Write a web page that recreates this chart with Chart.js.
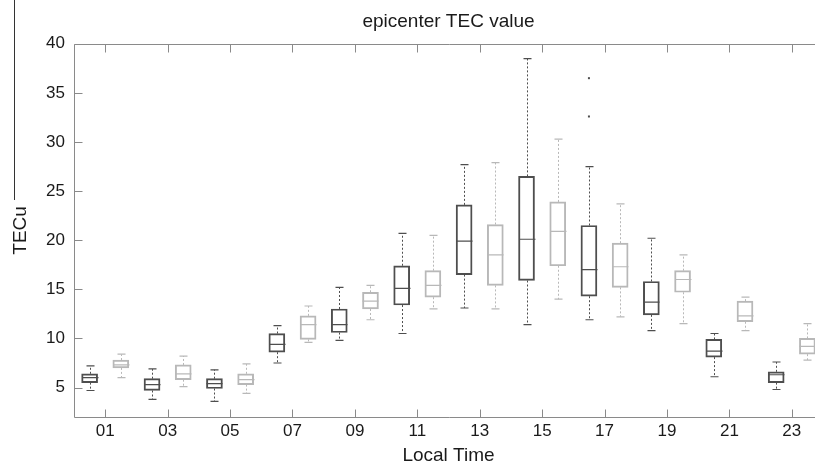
<!DOCTYPE html>
<html>
<head>
<meta charset="utf-8">
<title>epicenter TEC value</title>
<script src="https://cdn.jsdelivr.net/npm/chart.js@4.4.1/dist/chart.umd.min.js"></script>
<style>
    html, body { margin: 0; padding: 0; background: #fff; overflow: hidden; }
    #wrap { width: 824px; height: 466px; }
</style>
</head>
<body>
<div id="wrap"><canvas id="tecChart"></canvas></div>
<script>
// local time bins, each box sits in the middle of its hour
const hourStart = [0, 1, 2, 3, 4, 5, 6, 7, 8, 9, 10, 11, 12, 13, 14, 15, 16, 17, 18, 19, 20, 21, 22, 23];

const whiskerLow  = [4.7, 6.0, 3.8, 5.1, 3.6, 4.4, 7.5, 9.6, 9.8, 11.9, 10.5, 13.0, 13.1, 13.0, 11.4, 14.0, 11.9, 12.2, 10.8, 11.5, 6.1, 10.8, 4.8, 7.8];
const quart1      = [5.5, 7.0, 4.7, 5.8, 4.9, 5.3, 8.6, 9.9, 10.6, 13.0, 13.4, 14.2, 16.5, 15.4, 15.9, 17.4, 14.3, 15.2, 12.4, 14.7, 8.1, 11.7, 5.5, 8.4];
const median      = [6.0, 7.3, 5.3, 6.4, 5.4, 5.8, 9.4, 11.4, 11.4, 13.8, 15.1, 15.4, 19.9, 18.5, 20.1, 20.9, 17.0, 17.3, 13.7, 16.0, 8.7, 12.3, 6.3, 9.2];
const quart3      = [6.4, 7.8, 5.9, 7.3, 5.9, 6.4, 10.5, 12.3, 13.0, 14.7, 17.4, 16.9, 23.6, 21.6, 26.5, 23.9, 21.5, 19.7, 15.8, 16.9, 9.9, 13.8, 6.6, 10.0];
const whiskerHigh = [7.2, 8.4, 6.9, 8.2, 6.8, 7.4, 11.3, 13.3, 15.2, 15.4, 20.7, 20.5, 27.7, 27.9, 38.5, 30.3, 27.5, 23.7, 20.2, 18.5, 10.5, 14.2, 7.6, 11.5];

const outlierHour  = [16, 16];
const outlierValue = [36.5, 32.6];

const xTickValues = [1, 3, 5, 7, 9, 11, 13, 15, 17, 19, 21, 23];
const xTickLabels = ['01', '03', '05', '07', '09', '11', '13', '15', '17', '19', '21', '23'];
const yTickValues = [5, 10, 15, 20, 25, 30, 35, 40];

const DARK = '#4e4e4e';
const LIGHT = '#b8b8b8';
const AXIS = '#8a8a8a';
const boxColor = i => (i % 2 === 0 ? DARK : LIGHT);

Chart.defaults.font.family = "'Liberation Sans', Arial, sans-serif";
Chart.defaults.font.size = 17;
Chart.defaults.color = '#1a1a1a';

function line(ctx, x1, y1, x2, y2) {
    ctx.beginPath();
    ctx.moveTo(x1, y1);
    ctx.lineTo(x2, y2);
    ctx.stroke();
}

// whiskers, caps, medians and outliers on top of the floating bars
const boxExtras = {
    id: 'boxExtras',
    afterDatasetsDraw(chart) {
        const {ctx, chartArea, scales: {x, y}} = chart;
        const bars = chart.getDatasetMeta(0).data;
        ctx.save();
        ctx.beginPath();
        ctx.rect(chartArea.left, chartArea.top, chartArea.right - chartArea.left, chartArea.bottom - chartArea.top);
        ctx.clip();
        hourStart.forEach((h, i) => {
            const px = Math.round(x.getPixelForValue(h + 0.5)) + 0.5;
            const yLo = y.getPixelForValue(whiskerLow[i]);
            const yQ1 = y.getPixelForValue(quart1[i]);
            const yMed = y.getPixelForValue(median[i]);
            const yQ3 = y.getPixelForValue(quart3[i]);
            const yHi = y.getPixelForValue(whiskerHigh[i]);
            const half = bars[i].width / 2;
            ctx.strokeStyle = boxColor(i);
            ctx.lineWidth = 1;
            ctx.setLineDash([2, 2]);
            line(ctx, px, yQ3, px, yHi);
            line(ctx, px, yQ1, px, yLo);
            ctx.setLineDash([]);
            ctx.lineWidth = 1.2;
            line(ctx, px - half / 2, yHi, px + half / 2, yHi);
            line(ctx, px - half / 2, yLo, px + half / 2, yLo);
            line(ctx, px - half, yMed, px + half, yMed);
        });
        ctx.fillStyle = DARK;
        outlierHour.forEach((h, i) => {
            const px = x.getPixelForValue(h + 0.5);
            const py = y.getPixelForValue(outlierValue[i]);
            ctx.fillRect(px - 1, py - 1, 2, 2);
        });
        ctx.restore();
    }
};

// MATLAB style frame: axis lines with ticks pointing inwards
const axesFrame = {
    id: 'axesFrame',
    afterDraw(chart) {
        const {ctx, chartArea: {left, right, top, bottom}, scales: {x, y}} = chart;
        const len = 8;
        ctx.save();
        ctx.strokeStyle = AXIS;
        ctx.lineWidth = 1;
        const l = Math.round(left) + 0.5;
        const b = Math.round(bottom) + 0.5;
        const t = Math.round(top) + 0.5;
        line(ctx, l, t, l, b);
        line(ctx, l, b, right + 2, b);
        line(ctx, l, t, right + 2, t);
        y.ticks.forEach(tk => {
            const py = Math.round(y.getPixelForValue(tk.value)) + 0.5;
            line(ctx, l, py, l + len, py);
        });
        x.ticks.forEach(tk => {
            const px = Math.round(x.getPixelForValue(tk.value)) + 0.5;
            line(ctx, px, b, px, b - len);
            line(ctx, px, t, px, t + len);
        });
        // stray figure edge at the left of the picture
        ctx.strokeStyle = '#333';
        line(ctx, 14.5, 0, 14.5, 200);
        ctx.restore();
    }
};

new Chart(document.getElementById('tecChart'), {
    type: 'bar',
    data: {
        datasets: [{
            label: 'TEC',
            data: hourStart.map((h, i) => ({x: h + 0.5, y: [quart1[i], quart3[i]]})),
            backgroundColor: 'rgba(255,255,255,0)',
            borderColor: ctx => boxColor(ctx.dataIndex),
            borderWidth: 1.3,
            borderSkipped: false,
            barThickness: 16,
        }]
    },
    options: {
        responsive: true,
        maintainAspectRatio: false,
        animation: false,
        layout: {padding: {left: 0, right: 1, top: 0, bottom: 0}},
        plugins: {
            legend: {display: false},
            tooltip: {enabled: false},
            title: {
                display: true,
                text: 'epicenter TEC value',
                fullSize: false,
                color: '#1a1a1a',
                font: {size: 19, weight: 'normal'},
                padding: {top: 10, bottom: 11},
            },
        },
        scales: {
            x: {
                type: 'linear',
                min: 0,
                max: 24,
                offset: false,
                afterBuildTicks: scale => { scale.ticks = xTickValues.map(v => ({value: v})); },
                afterFit: scale => { scale.height = 49; },
                grid: {display: false, drawTicks: false},
                border: {display: false},
                ticks: {
                    autoSkip: false,
                    maxRotation: 0,
                    padding: 4,
                    callback: value => xTickLabels[xTickValues.indexOf(value)],
                },
                title: {display: true, text: 'Local Time', font: {size: 19}, padding: {top: 0, bottom: -1}},
            },
            y: {
                min: 2,
                max: 40,
                afterBuildTicks: scale => { scale.ticks = yTickValues.map(v => ({value: v})); },
                afterFit: scale => { scale.width = 74; },
                grid: {display: false, drawTicks: false},
                border: {display: false},
                ticks: {padding: 9},
                title: {display: true, text: 'TECu', font: {size: 19}, padding: {top: 9, bottom: 0}},
            },
        },
    },
    plugins: [boxExtras, axesFrame],
});
</script>
</body>
</html>
